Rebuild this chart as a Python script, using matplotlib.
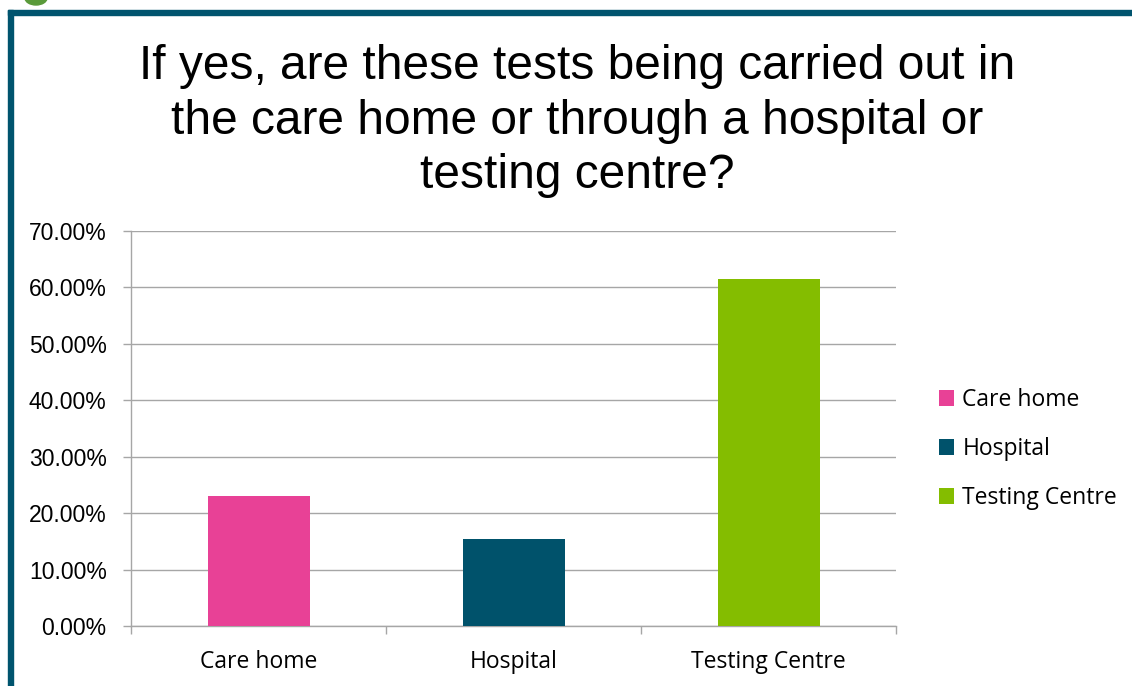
import numpy as np
import matplotlib.pyplot as plt
from matplotlib.patches import Rectangle, Ellipse
from matplotlib.ticker import FuncFormatter

# 데이터
categories = ['Care home', 'Hospital', 'Testing Centre']
values = [23.08, 15.38, 61.54]
colors = ['#e84196', '#00526b', '#84bd00']
y_ticks = [0, 10, 20, 30, 40, 50, 60, 70]

title = 'If yes, are these tests being carried out in\nthe care home or through a hospital or\ntesting centre?'

W, H = 1132, 686
fig = plt.figure(figsize=(W / 100, H / 100), dpi=100)

# 슬라이드 테두리
fig.patches.append(Rectangle((8 / W, 0), 5 / W, 1 - 10 / H, transform=fig.transFigure,
                             color='#00546e', zorder=0))
fig.patches.append(Rectangle((8 / W, 1 - 15 / H), 1 - 8 / W, 5 / H, transform=fig.transFigure,
                             color='#00546e', zorder=0))
fig.patches.append(Ellipse((36 / W, 1 + 2 / H), 22 / W, 14 / H, transform=fig.transFigure,
                           color='#5a9a3a', zorder=0))

fig.text(577 / W, 1 - 121 / H, title, ha='center', va='center', fontsize=34.5,
         family='Liberation Sans', linespacing=1.28)

ax = fig.add_axes([131 / W, 1 - 626 / H, (896 - 131) / W, (626 - 231) / H])
x = np.arange(len(categories))
ax.bar(x, values, width=0.4, color=colors, zorder=3, label=categories)

ax.set_xlim(-0.5, len(categories) - 0.5)
ax.set_ylim(0, 70)
ax.set_yticks(y_ticks)
ax.yaxis.set_major_formatter(FuncFormatter(lambda v, p: f'{v:.2f}%'))
ax.grid(axis='y', color='#a6a6a6', linewidth=1, zorder=0)

for s in ['top', 'right']:
    ax.spines[s].set_visible(False)
for s in ['left', 'bottom']:
    ax.spines[s].set_color('#a6a6a6')
    ax.spines[s].set_linewidth(1)

ax.set_xticks(x)
ax.set_xticklabels(categories, fontsize=16.5, family='Open Sans')
ax.set_xticks(np.arange(-0.5, len(categories), 1), minor=True)
ax.tick_params(axis='x', which='major', length=0, pad=17)
ax.tick_params(axis='x', which='minor', length=5.5, color='#a6a6a6', width=1)
ax.tick_params(axis='y', length=6, color='#a6a6a6', width=1, pad=11.5)
for lbl in ax.get_yticklabels():
    lbl.set_family('Liberation Sans')
    lbl.set_fontsize(16.5)

leg = ax.legend(loc='center left', bbox_to_anchor=(1.056, 0.448), frameon=False,
                prop={'family': 'Open Sans', 'size': 16.5}, handlelength=0.68,
                handleheight=0.68, handletextpad=0.35, labelspacing=1.1,
                borderpad=0, borderaxespad=0)

plt.savefig('out.png', dpi=100)
